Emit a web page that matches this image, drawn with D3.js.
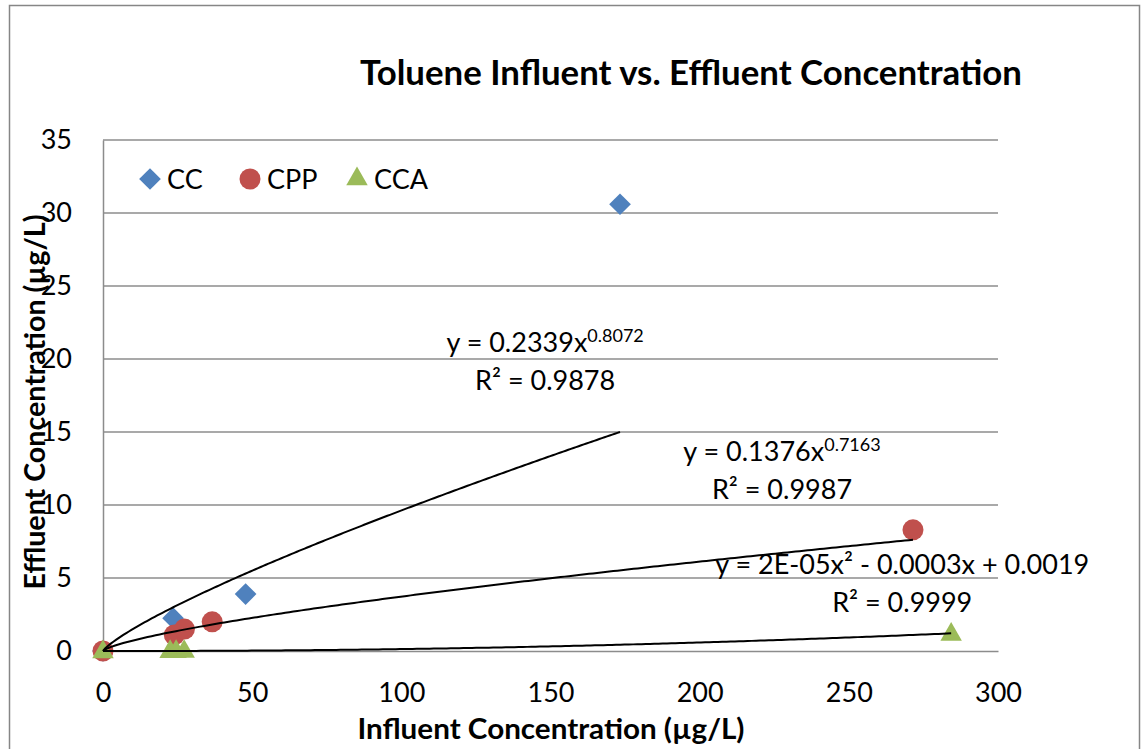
<!DOCTYPE html>
<html>
<head>
<meta charset="utf-8">
<script src="https://cdn.jsdelivr.net/npm/d3@7"></script>
<style>
  html, body { margin: 0; padding: 0; background: #fff; }
  svg text { font-family: Lato, "Open Sans", sans-serif; fill: #000; }
</style>
</head>
<body>
<svg id="chart" width="1144" height="749"></svg>
<script>
// data
const ccX = [0, 23.5, 47.8, 173.3];
const ccY = [0, 2.25, 3.9, 30.6];
const cppX = [0, 23.9, 27.3, 36.6, 271.5];
const cppY = [0, 1.1, 1.5, 2.0, 8.3];
const ccaX = [0, 22.5, 24.5, 27.2, 284.3];
const ccaY = [0, 0.02, 0.02, 0.03, 1.2];

const xTicks = [0, 50, 100, 150, 200, 250, 300];
const yTicks = [0, 5, 10, 15, 20, 25, 30, 35];

// trendline coefficients
const ccFit = { a: 0.2339, b: 0.8072 };
const cppFit = { a: 0.1376, b: 0.7163 };
const ccaFit = { a: 1.6e-5, b: -0.0003, c: 0.0019 };

const eqLabels = [
  { top: 'y = 0.2339x', sup: '0.8072', r2: 'R² = 0.9878', x: 148.2, y: 20.5 },
  { top: 'y = 0.1376x', sup: '0.7163', r2: 'R² = 0.9987', x: 227.6, y: 13.0 },
  { top: 'y = 2E-05x² - 0.0003x + 0.0019', sup: '', r2: 'R² = 0.9999', x: 267.9, y: 5.3 }
];

const svg = d3.select('#chart');
const margin = { left: 103, right: 146, top: 140, bottom: 98 };
const width = 1144, height = 749;

const x = d3.scaleLinear().domain([0, 300]).range([margin.left, width - margin.right]);
const y = d3.scaleLinear().domain([0, 35]).range([height - margin.bottom, margin.top]);

// outer chart border
svg.append('rect')
  .attr('x', 9.5).attr('y', 5.5)
  .attr('width', 1130).attr('height', 780)
  .attr('fill', 'none').attr('stroke', '#868686').attr('stroke-width', 1.5);

// gridlines
svg.append('g')
  .selectAll('line')
  .data(yTicks.filter(d => d > 0))
  .enter().append('line')
  .attr('x1', x(0)).attr('x2', x(300))
  .attr('y1', d => y(d)).attr('y2', d => y(d))
  .attr('stroke', '#8c8c8c').attr('stroke-width', 1.5);

// axes
const xAxis = d3.axisBottom(x).tickValues(xTicks).tickSize(0).tickPadding(32);
const yAxis = d3.axisLeft(y).tickValues(yTicks).tickSize(0).tickPadding(31);

const gx = svg.append('g').attr('transform', `translate(0,${y(0)})`).call(xAxis);
const gy = svg.append('g').attr('transform', `translate(${x(0)},0)`).call(yAxis);
[gx, gy].forEach(g => {
  g.select('.domain').attr('stroke', '#8c8c8c').attr('stroke-width', 1.5);
  g.selectAll('text').attr('font-size', 27).attr('font-family', 'Lato').attr('fill', '#000');
});
gx.selectAll('text').attr('dy', '0.71em');

// markers
const ccData = ccX.map((v, i) => [v, ccY[i]]);
const cppData = cppX.map((v, i) => [v, cppY[i]]);
const ccaData = ccaX.map((v, i) => [v, ccaY[i]]);

const diamond = d3.symbol().type(d3.symbolDiamond2).size(300);
const triangle = d3.symbol().type(d3.symbolTriangle2).size(330);

svg.append('g').selectAll('path')
  .data(ccData).enter().append('path')
  .attr('d', diamond)
  .attr('transform', d => `translate(${x(d[0])},${y(d[1])})`)
  .attr('fill', '#4F81BD');

svg.append('g').selectAll('circle')
  .data(cppData).enter().append('circle')
  .attr('cx', d => x(d[0])).attr('cy', d => y(d[1]))
  .attr('r', 10.5)
  .attr('fill', '#C0504D');

svg.append('g').selectAll('path')
  .data(ccaData).enter().append('path')
  .attr('d', triangle)
  .attr('transform', d => `translate(${x(d[0])},${y(d[1]) + 1})`)
  .attr('fill', '#9BBB59');

// trendlines
const line = d3.line().x(d => x(d[0])).y(d => y(d[1]));
function curve(fn, maxX) {
  return d3.range(0, 201).map(i => {
    const xv = maxX * i / 200;
    return [xv, fn(xv)];
  });
}
const fits = [
  curve(v => ccFit.a * Math.pow(v, ccFit.b), d3.max(ccX)),
  curve(v => cppFit.a * Math.pow(v, cppFit.b), d3.max(cppX)),
  curve(v => ccaFit.a * v * v + ccaFit.b * v + ccaFit.c, d3.max(ccaX))
];
svg.append('g').selectAll('path')
  .data(fits).enter().append('path')
  .attr('d', line)
  .attr('fill', 'none').attr('stroke', '#000').attr('stroke-width', 2);

// equation labels
const eq = svg.append('g').selectAll('g')
  .data(eqLabels).enter().append('g');
eq.append('text')
  .attr('x', d => x(d.x)).attr('y', d => y(d.y))
  .attr('text-anchor', 'middle').attr('font-size', 27)
  .each(function(d) {
    const t = d3.select(this);
    t.append('tspan').text(d.top);
    if (d.sup) {
      t.append('tspan').attr('font-size', 18).attr('dy', -10).text(d.sup);
    }
  });
eq.append('text')
  .attr('x', d => x(d.x)).attr('y', d => y(d.y) + 38)
  .attr('text-anchor', 'middle').attr('font-size', 27)
  .text(d => d.r2);

// legend
const legendItems = [
  { name: 'CC', color: '#4F81BD', shape: 'diamond' },
  { name: 'CPP', color: '#C0504D', shape: 'circle' },
  { name: 'CCA', color: '#9BBB59', shape: 'triangle' }
];
const legendX = [150, 250, 357];
const legend = svg.append('g').attr('transform', 'translate(0,179)');
legendItems.forEach((item, i) => {
  const g = legend.append('g').attr('transform', `translate(${legendX[i]},0)`);
  if (item.shape === 'circle') {
    g.append('circle').attr('r', 10.5).attr('fill', item.color);
  } else {
    g.append('path').attr('d', item.shape === 'diamond' ? diamond : triangle).attr('fill', item.color);
  }
  g.append('text').attr('x', 17).attr('y', 10).attr('font-size', 27).text(item.name);
});

// titles
svg.append('text')
  .attr('x', 691).attr('y', 85)
  .attr('text-anchor', 'middle')
  .attr('font-size', 34).attr('font-weight', 'bold')
  .attr('textLength', 662).attr('lengthAdjust', 'spacingAndGlyphs')
  .text('Toluene Influent vs. Effluent Concentration');

svg.append('text')
  .attr('x', 551).attr('y', 739)
  .attr('text-anchor', 'middle')
  .attr('font-size', 29).attr('font-weight', 'bold')
  .attr('textLength', 387).attr('lengthAdjust', 'spacingAndGlyphs')
  .text('Influent Concentration (µg/L)');

svg.append('text')
  .attr('transform', 'translate(45,402) rotate(-90)')
  .attr('text-anchor', 'middle')
  .attr('font-size', 29).attr('font-weight', 'bold')
  .attr('textLength', 375).attr('lengthAdjust', 'spacingAndGlyphs')
  .text('Effluent Concentration (µg/L)');
</script>
</body>
</html>
